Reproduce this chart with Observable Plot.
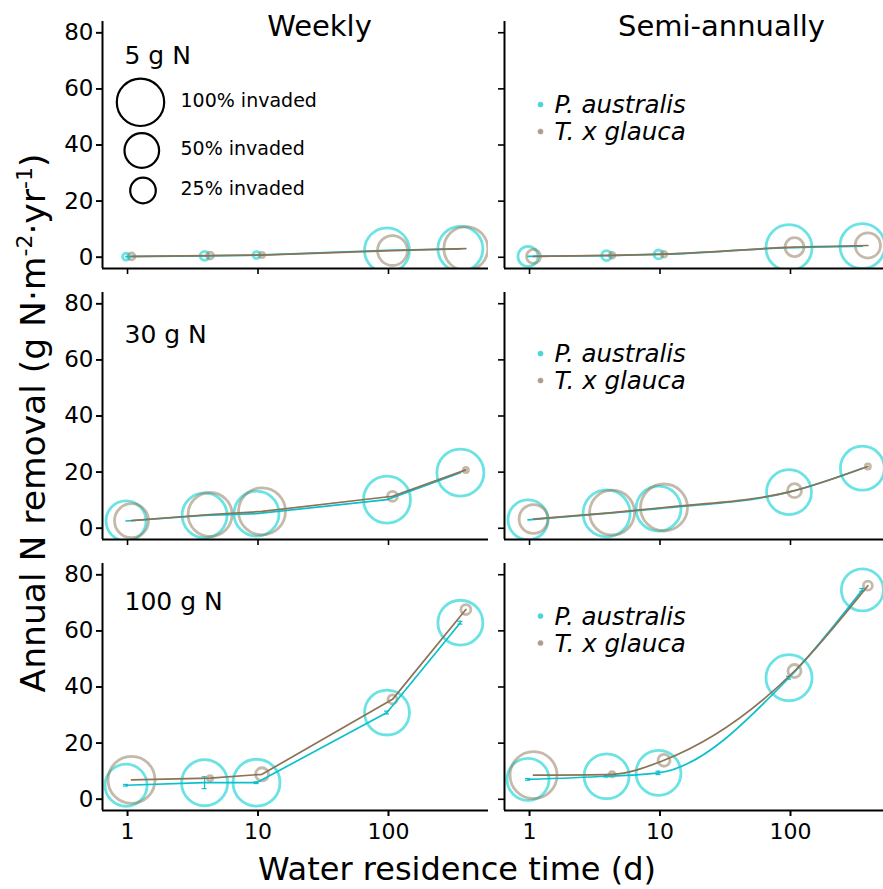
<!DOCTYPE html>
<html>
<head>
<meta charset="utf-8">
<script src="https://cdn.jsdelivr.net/npm/d3@7"></script>
<script src="https://cdn.jsdelivr.net/npm/@observablehq/plot@0.6"></script>
<style>
  html, body { margin: 0; padding: 0; overflow: hidden; background: white; }
  #chart svg { display: block; max-width: none !important; }
</style>
</head>
<body>
<div id="chart"></div>
<script>
// ---------------- data ----------------
const residence = [1, 4, 10, 100, 365];               // water residence time (d)
const frequencies = ["Weekly", "Semi-annually"];
const nLevels = ["5 g N", "30 g N", "100 g N"];
const species = ["P. australis", "T. x glauca"];
const yTicks = [0, 20, 40, 60, 80];
const xTicks = [1, 10, 100];
const sizeLegend = [100, 50, 25];                      // % invaded

// Annual N removal, rows = N level (5, 30, 100 g N), columns = residence time
const removalWeeklyP = [[0.2, 0.5, 0.8, 2.5, 3.0], [2.6, 4.6, 5.2, 10.2, 19.8], [5.0, 5.9, 5.9, 30.9, 62.9]];
const removalWeeklyT = [[0.3, 0.6, 0.8, 2.4, 3.1], [2.7, 4.9, 6.0, 11.4, 20.8], [6.9, 7.5, 8.9, 35.6, 67.6]];
const removalSemiP   = [[0.3, 0.6, 1.0, 3.4, 4.0], [3.0, 5.3, 7.0, 12.9, 21.4], [7.1, 8.2, 9.4, 43.3, 74.6]];
const removalSemiT   = [[0.3, 0.7, 1.1, 3.6, 4.2], [3.3, 5.6, 7.4, 13.4, 22.0], [8.6, 8.9, 13.9, 45.7, 76.1]];

// % invaded (circle size)
const invadedWeeklyP = [[0.5, 1.4, 0.5, 89, 89], [69, 89, 89, 98, 98], [77, 94, 98, 89, 89]];
const invadedWeeklyT = [[0.5, 0.5, 0.1, 36, 85], [48, 85, 98, 2, 0.1], [98, 0.1, 4.5, 1.4, 2]];
const invadedSemiP   = [[14, 2, 1.4, 94, 89], [69, 98, 89, 89, 85], [77, 89, 89, 94, 77]];
const invadedSemiT   = [[5.5, 0.2, 0.2, 12, 24], [33, 89, 98, 5.5, 0.1], [98, 0.1, 3.5, 4.5, 1.4]];

// standard error of removal (P. australis)
const errWeeklyP = [[0, 0, 0, 0, 0], [0, 0, 0, 0, 0], [0.3, 2.1, 0.3, 0.5, 0.5]];
const errSemiP   = [[0, 0, 0, 0, 0], [0, 0, 0, 0, 0], [0.3, 0.3, 0.6, 0.5, 0.5]];

// ---------------- table ----------------
const sources = [
  {freq: "Weekly", sp: species[0], rem: removalWeeklyP, inv: invadedWeeklyP, err: errWeeklyP},
  {freq: "Semi-annually", sp: species[0], rem: removalSemiP, inv: invadedSemiP, err: errSemiP},
  {freq: "Weekly", sp: species[1], rem: removalWeeklyT, inv: invadedWeeklyT, err: null},
  {freq: "Semi-annually", sp: species[1], rem: removalSemiT, inv: invadedSemiT, err: null}
];
const rows = [];
for (const s of sources) {
  nLevels.forEach((lvl, li) => {
    residence.forEach((t, i) => {
      rows.push({freq: s.freq, level: lvl, species: s.sp, t,
        removal: s.rem[li][i], invaded: s.inv[li][i], err: s.err ? s.err[li][i] : 0});
    });
  });
}

// ---------------- styles ----------------
const FONT = "DejaVu Sans";
const ringColor = {[species[0]]: "#00CED1", [species[1]]: "#8B7355"};
const ringOpacity = {[species[0]]: 0.58, [species[1]]: 0.5};
const lineColor = {[species[0]]: "#0BC0CC", [species[1]]: "#8B7355"};
const keyColor = {[species[0]]: "#4DD3DB", [species[1]]: "#AD9F8F"};
const dodge = {[species[0]]: 0.974, [species[1]]: 1.073};
const xpos = d => d.t * dodge[d.species];
const xDomain = [0.643, 584];
const yDomain = [-4, 84];

const bySp = sp => rows.filter(d => d.species === sp);

const marks = [];

// circles sized by % invaded
for (const sp of species) {
  marks.push(Plot.dot(bySp(sp), {
    x: xpos, y: "removal", r: "invaded", fx: "freq", fy: "level",
    stroke: ringColor[sp], strokeOpacity: ringOpacity[sp], strokeWidth: 2.8, fill: "none", clip: true
  }));
}

// error bars
const errRows = rows.filter(d => d.err > 0);
marks.push(Plot.ruleX(errRows, {x: xpos, y1: d => d.removal - d.err, y2: d => d.removal + d.err,
  fx: "freq", fy: "level", stroke: lineColor[species[0]], strokeWidth: 1.2}));
for (const k of [-1, 1]) {
  marks.push(Plot.ruleY(errRows, {y: d => d.removal + k * d.err, x1: d => xpos(d) / 1.045, x2: d => xpos(d) * 1.045,
    fx: "freq", fy: "level", stroke: lineColor[species[0]], strokeWidth: 1.2}));
}

// lines
for (const sp of species) {
  for (const f of frequencies) {
    marks.push(Plot.line(bySp(sp).filter(d => d.freq === f), {
      x: xpos, y: "removal", fx: "freq", fy: "level", z: "level",
      stroke: lineColor[sp], strokeWidth: 1.7,
      curve: f === "Weekly" ? "linear" : "monotone-x"
    }));
  }
}

// axis lines
marks.push(Plot.ruleX([xDomain[0]], {stroke: "black", strokeWidth: 2}));
marks.push(Plot.ruleY([yDomain[0]], {stroke: "black", strokeWidth: 2}));

// axes: ticks everywhere, labels on outer panels only
marks.push(Plot.axisY(yTicks, {facetAnchor: null, tickSize: 6, strokeWidth: 1.6, tickFormat: () => "", label: null}));
marks.push(Plot.axisY(yTicks, {tickSize: 6, tickPadding: 3, strokeWidth: 1.6, fontSize: 23, label: null, tickFormat: d => String(d)}));
marks.push(Plot.axisX(xTicks, {facetAnchor: null, tickSize: 6, strokeWidth: 1.6, tickFormat: () => "", label: null}));
marks.push(Plot.axisX(xTicks, {tickSize: 6, tickPadding: 7, strokeWidth: 1.6, fontSize: 22, label: null, tickFormat: d => String(d)}));

// strip titles
marks.push(Plot.text(frequencies, {fx: d => d, fy: () => nLevels[0], text: d => d,
  frameAnchor: "top", dx: 24, dy: 14, lineAnchor: "bottom", fontSize: 29}));

// panel labels
const labelDy = [42, 50, 46.5];
nLevels.forEach((lvl, i) => {
  marks.push(Plot.text([lvl], {fx: () => "Weekly", fy: d => d, text: d => d,
    frameAnchor: "top-left", dx: 22, dy: labelDy[i], lineAnchor: "bottom", textAnchor: "start", fontSize: 25}));
});

// size legend (top-left panel)
const sizeDx = [38, 39.3, 40.5], sizeDy = [80.8, 129, 169];
sizeLegend.forEach((v, i) => {
  marks.push(Plot.dot([v], {fx: () => "Weekly", fy: () => nLevels[0], r: d => d,
    frameAnchor: "top-left", dx: sizeDx[i], dy: sizeDy[i], stroke: "black", strokeWidth: 2.2, fill: "none"}));
  marks.push(Plot.text([v], {fx: () => "Weekly", fy: () => nLevels[0], text: d => `${d}% invaded`,
    frameAnchor: "top-left", dx: 78, dy: sizeDy[i] - 1.5, textAnchor: "start", lineAnchor: "middle", fontSize: 19}));
});

// species legend (right column, each panel)
const keyDy = [83, 61, 52.5];
nLevels.forEach((lvl, i) => {
  species.forEach((sp, j) => {
    const dy = keyDy[i] + j * 27;
    marks.push(Plot.dot([sp], {fx: () => "Semi-annually", fy: () => lvl, frameAnchor: "top-left",
      dx: 36, dy, r: 2.6, fill: keyColor[sp], stroke: keyColor[sp], strokeWidth: 0.5}));
    marks.push(Plot.text([sp], {fx: () => "Semi-annually", fy: () => lvl, text: d => d, frameAnchor: "top-left",
      dx: 50, dy: dy + 1, textAnchor: "start", lineAnchor: "middle", fontSize: 24.5, fontStyle: "italic"}));
  });
});

const plot = Plot.plot({
  width: 890,
  height: 889,
  marginLeft: 102,
  marginRight: 0,
  marginTop: 20,
  marginBottom: 77.5,
  style: {fontFamily: FONT, background: "white", color: "black", maxWidth: "none"},
  x: {type: "log", domain: xDomain, axis: null},
  y: {domain: yDomain, axis: null},
  r: {type: "sqrt", domain: [0, 100], range: [1.9, 23.7]},
  fx: {domain: frequencies, paddingInner: 16 / 402, paddingOuter: 0, axis: null},
  fy: {domain: nLevels, paddingInner: 0.0874, paddingOuter: 0, axis: null},
  marks
});

document.getElementById("chart").appendChild(plot);

// outer axis titles
const svg = d3.select(plot);
svg.append("text")
  .attr("x", 457).attr("y", 880)
  .attr("text-anchor", "middle")
  .attr("font-family", FONT).attr("font-size", 32).attr("fill", "black")
  .text("Water residence time (d)");

const yl = svg.append("text")
  .attr("transform", "translate(45,423) rotate(-90)")
  .attr("text-anchor", "middle")
  .attr("font-family", FONT).attr("font-size", 34.5).attr("fill", "black");
yl.append("tspan").text("Annual N removal (g N·m");
yl.append("tspan").attr("font-size", 22).attr("dy", -13).text("-2");
yl.append("tspan").attr("dy", 13).text("·yr");
yl.append("tspan").attr("font-size", 22).attr("dy", -13).text("-1");
yl.append("tspan").attr("dy", 13).text(")");
</script>
</body>
</html>
